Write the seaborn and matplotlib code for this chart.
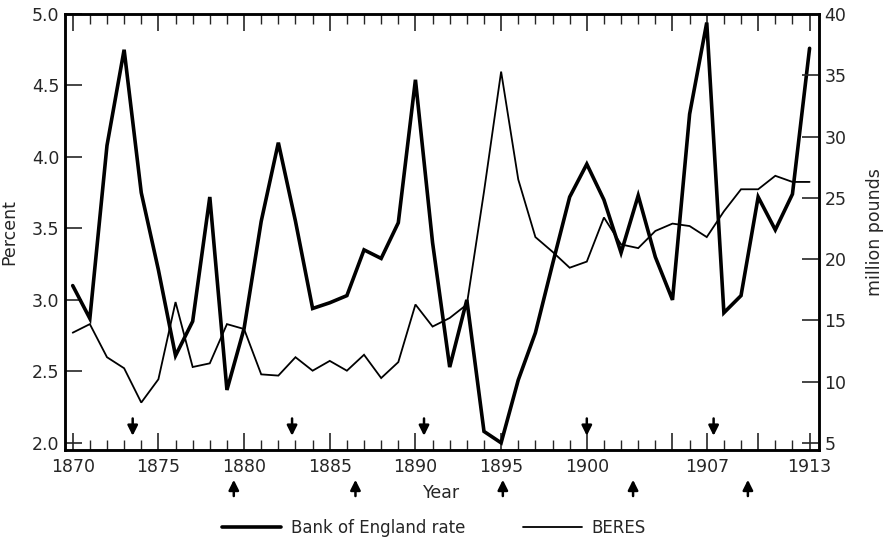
import numpy as np
import pandas as pd
import matplotlib
matplotlib.use('Agg')
import matplotlib.pyplot as plt
import seaborn as sns

# Data (annual, 1870-1913)
years = list(range(1870, 1914))
bank_rate = [3.10, 2.87, 4.08, 4.75, 3.75, 3.21, 2.61, 2.85, 3.72, 2.37,
             2.80, 3.55, 4.10, 3.55, 2.94, 2.98, 3.03, 3.35, 3.29, 3.54,
             4.54, 3.40, 2.53, 3.00, 2.08, 2.00, 2.44, 2.77, 3.25, 3.72,
             3.95, 3.70, 3.33, 3.73, 3.30, 3.00, 4.30, 4.94, 2.91, 3.03,
             3.72, 3.49, 3.74, 4.76]
beres = [14.0, 14.7, 12.0, 11.1, 8.3, 10.2, 16.5, 11.2, 11.5, 14.7,
         14.3, 10.6, 10.5, 12.0, 10.9, 11.7, 10.9, 12.2, 10.3, 11.6,
         16.3, 14.5, 15.2, 16.3, 25.5, 35.3, 26.5, 21.8, 20.6, 19.3,
         19.8, 23.4, 21.2, 20.9, 22.3, 22.9, 22.7, 21.8, 23.9, 25.7,
         25.7, 26.8, 26.3, 26.3]
label_years = [1870, 1875, 1880, 1885, 1890, 1895, 1900, 1907, 1913]
extra_major = [1905, 1910]
down_arrows = [1873.5, 1882.8, 1890.5, 1900.0, 1907.4]
up_arrows = [1879.4, 1886.5, 1895.1, 1902.7, 1909.4]

df = pd.DataFrame({'Year': years, 'Bank of England rate': bank_rate, 'BERES': beres})

sns.set_style('ticks')
plt.rcParams['font.family'] = ['DejaVu Sans']

fig = plt.figure(figsize=(8.86, 5.42), dpi=100)
ax = fig.add_axes([65/886, 1-450/542, (819-65)/886, (450-14)/542])
ax2 = ax.twinx()

sns.lineplot(data=df, x='Year', y='Bank of England rate', ax=ax, color='black', lw=2.6,
             label='Bank of England rate', legend=False, solid_joinstyle='miter')
sns.lineplot(data=df, x='Year', y='BERES', ax=ax2, color='black', lw=1.3,
             label='BERES', legend=False, solid_joinstyle='miter')

ax.set_xlim(1869.55, 1913.55)
ax.set_ylim(1.95, 5.0)
ax2.set_ylim(4.43, 40)

ax.set_yticks([2.0, 2.5, 3.0, 3.5, 4.0, 4.5, 5.0])
ax.set_yticklabels(['2.0', '2.5', '3.0', '3.5', '4.0', '4.5', '5.0'])
ax2.set_yticks([5, 10, 15, 20, 25, 30, 35, 40])

major = sorted(label_years + extra_major)
ax.set_xticks(major)
ax.set_xticklabels([str(y) if y in label_years else '' for y in major])
ax.set_xticks(years, minor=True)

ax.tick_params(axis='x', which='major', direction='in', length=12, width=1.2,
               top=True, labelsize=12.5, pad=6)
ax.tick_params(axis='x', which='minor', direction='in', length=7, width=1.0, top=True)
ax.tick_params(axis='y', which='major', direction='in', length=12, width=1.2, labelsize=12.5, pad=4)
ax2.tick_params(axis='y', which='major', direction='in', length=12, width=1.2, labelsize=12.5, pad=4)

for a in (ax, ax2):
    for s in a.spines.values():
        s.set_linewidth(1.8)
        s.set_color('black')

ax.set_xlabel('Year', fontsize=12.5)
ax.xaxis.set_label_coords(0.5, -0.078)
ax.set_ylabel('Percent', fontsize=12.5)
ax.yaxis.set_label_coords(-0.062, 0.5)
ax2.set_ylabel('million pounds', fontsize=12.5)
ax2.yaxis.set_label_coords(1.062, 0.5)

# arrows marking turning points
arrow_style = dict(arrowstyle='-|>', color='black', lw=1.8, mutation_scale=15)
for x in down_arrows:
    ax.annotate('', xy=(x, 2.03), xytext=(x, 2.19), arrowprops=arrow_style)
for x in up_arrows:
    ax.annotate('', xy=(x, -0.062), xytext=(x, -0.112), xycoords=('data', 'axes fraction'),
                textcoords=('data', 'axes fraction'), annotation_clip=False,
                arrowprops=arrow_style)

h1, l1 = ax.get_legend_handles_labels()
h2, l2 = ax2.get_legend_handles_labels()
fig.legend(h1 + h2, l1 + l2, loc='center', bbox_to_anchor=(0.49, 1-528/542), ncol=2,
           frameon=False, fontsize=12, handlelength=3.5, columnspacing=3.5, handletextpad=0.6)

fig.savefig('out.png', dpi=100)
